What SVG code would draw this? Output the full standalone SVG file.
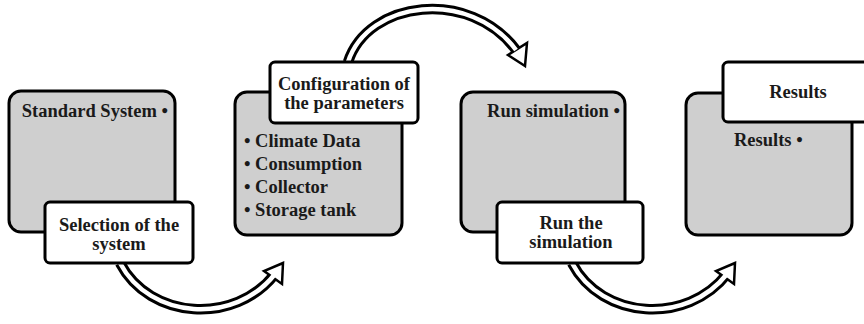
<svg xmlns="http://www.w3.org/2000/svg" width="864" height="324" viewBox="0 0 864 324">
<style>
.box{fill:#cfcfcf;stroke:#000;stroke-width:3}
.lbl{fill:#fff;stroke:#000;stroke-width:3}
text{font-family:'Liberation Serif','DejaVu Serif','Times New Roman',serif;font-weight:bold;font-size:18.5px;fill:#1a1a1a}
.c{text-anchor:middle}
.e{text-anchor:end}
.sh{fill:none;stroke:#000;stroke-width:10.5}
.si{fill:none;stroke:#fff;stroke-width:4.5}
.hd{fill:#fff;stroke:#000;stroke-width:2.5;stroke-linejoin:miter}
</style>
<rect width="864" height="324" fill="#fff"/>
<g id="connectors">
  <g id="arrow1">
    <path class="sh" d="M120,263 C150,320 235,325 275,274"/>
    <polygon class="hd" points="283,263 264,271 282,284"/>
    <path class="si" d="M120,263 C150,320 235,325 275,274"/>
  </g>
  <g id="arrow2">
    <path class="sh" d="M348,62 C368,0 470,-12 516,50"/>
    <polygon class="hd" points="525,66 508,55 527,43"/>
    <path class="si" d="M348,62 C368,0 470,-12 516,50"/>
  </g>
  <g id="arrow3" transform="translate(452,0)">
    <path class="sh" d="M120,263 C150,320 235,325 275,274"/>
    <polygon class="hd" points="283,263 264,271 282,284"/>
    <path class="si" d="M120,263 C150,320 235,325 275,274"/>
  </g>
</g>
<g id="node1">
  <rect class="box" x="9" y="91" width="166" height="141" rx="12"/>
  <text class="e" x="168" y="117">Standard System •</text>
</g>
<g id="label1">
  <rect class="lbl" x="45" y="202" width="148" height="61" rx="5"/>
  <text class="c" x="119" y="231">Selection of the</text>
  <text class="c" x="119" y="250">system</text>
</g>
<g id="node2">
  <rect class="box" x="235" y="92" width="167" height="143" rx="12"/>
  <text x="244" y="147">• Climate Data</text>
  <text x="244" y="170">• Consumption</text>
  <text x="244" y="193">• Collector</text>
  <text x="244" y="216">• Storage tank</text>
</g>
<g id="label2">
  <rect class="lbl" x="270" y="62" width="148" height="61" rx="5"/>
  <text class="c" x="344" y="90">Configuration of</text>
  <text class="c" x="344" y="109">the parameters</text>
</g>
<g id="node3">
  <rect class="box" x="461" y="92" width="164" height="140" rx="12"/>
  <text class="e" x="620" y="117">Run simulation •</text>
</g>
<g id="label3">
  <rect class="lbl" x="497" y="202" width="146" height="61" rx="5"/>
  <text class="c" x="571" y="229">Run the</text>
  <text class="c" x="571" y="248">simulation</text>
</g>
<g id="node4">
  <rect class="box" x="686" y="93" width="166" height="142" rx="12"/>
  <text x="734" y="146">Results •</text>
</g>
<g id="label4">
  <rect class="lbl" x="723" y="62" width="160" height="60" rx="5"/>
  <text class="c" x="798" y="98">Results</text>
</g>
</svg>
